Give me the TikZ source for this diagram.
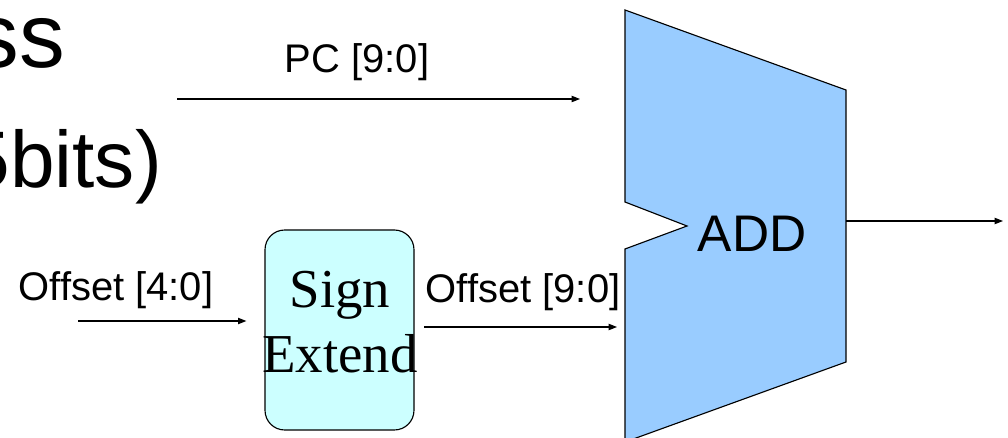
\documentclass[tikz,border=0pt]{standalone}
\usepackage{fontspec}
\setmainfont{Liberation Sans}
\newfontfamily\boxfont{Liberation Serif}
\usetikzlibrary{arrows.meta, positioning}
\definecolor{addblue}{HTML}{99CCFF}
\definecolor{extcyan}{HTML}{CCFFFF}

\begin{document}
\begin{tikzpicture}[x=0.025cm, y=-0.025cm,
            unit/.style={draw, line width=0.8pt},
            extbox/.style={rectangle, rounded corners=14pt, draw, fill=extcyan, line width=0.8pt, minimum width=149*0.025cm, minimum height=200*0.025cm},
            sig/.style={anchor=base, inner sep=0pt, font=\fontsize{28.4}{31}\selectfont},
            arrow/.style={-{Triangle[length=6pt, width=4.5pt]}, line width=0.8pt}
        ]

            \clip (0,0) rectangle (1008,438);

            % cut-off title behind the datapath
            \node[anchor=base east, inner sep=0pt, font=\fontsize{65}{70}\selectfont] (T1) at (65,68) {ss};
            \node[anchor=base east, inner sep=0pt, font=\fontsize{57}{62}\selectfont] (T2) at (162,188) {5bits)};

            % adder
            \coordinate (A1) at (625,10);
            \coordinate (A2) at (846,90);
            \coordinate (A3) at (846,362);
            \coordinate (A4) at (625,442);
            \coordinate (N1) at (625,249);
            \coordinate (N2) at (687,226);
            \coordinate (N3) at (625,202);
            \filldraw[unit, fill=addblue] (A1) -- (A2) -- (A3) -- (A4) -- (N1) -- (N2) -- (N3) -- cycle;
            \node[font=\fontsize{36.6}{40}\selectfont, inner sep=0pt] (ADD) at (752,233.5) {ADD};

            \node[extbox] (SE) at (339.5,330) {};
            \node[align=center, inner sep=0pt, font=\boxfont\fontsize{39}{46}\selectfont] (SEtext) at (340,322) {Sign\\Extend};

            \coordinate (pcin) at (177,99);
            \coordinate (offin) at (78,321);
            \coordinate (offout) at (424,327);
            \coordinate (sum) at (846,221);
            \coordinate (sumout) at (1003,221);

            \node[sig] (PClab) at (357,73) {PC [9:0]};
            \node[sig] (offlab) at (116,301) {Offset [4:0]};
            \node[sig] (extlab) at (523,303) {Offset [9:0]};

            \draw[arrow, shorten >=45*0.025cm] (pcin) -- (pcin -| A1);
            \draw[arrow, shorten >=18*0.025cm] (offin) -- (offin -| SE.west);
            \draw[arrow, shorten >=8*0.025cm] (offout) -- (offout -| A4);
            \draw[arrow] (sum) -- (sumout);

        \end{tikzpicture}
\end{document}
